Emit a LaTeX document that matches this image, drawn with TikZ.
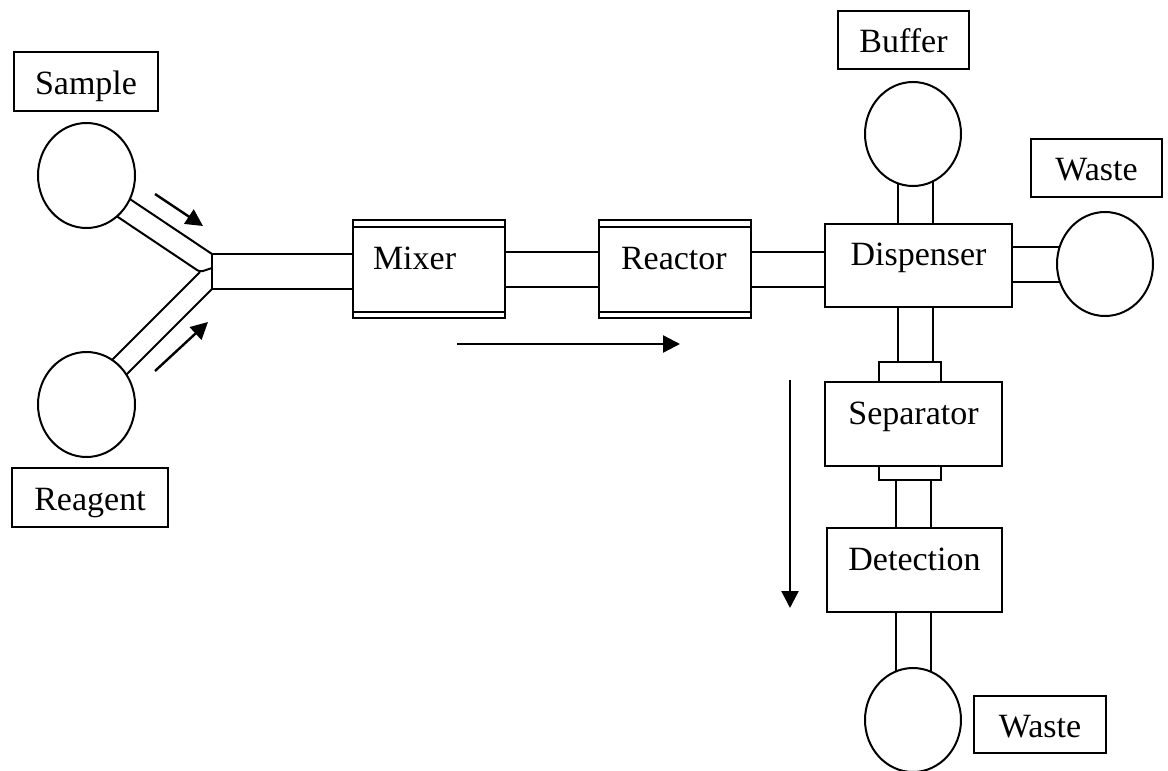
\documentclass[tikz,border=0pt]{standalone}
\usepackage{fontspec}
\setmainfont{Liberation Serif}
\usetikzlibrary{shapes.geometric,arrows.meta,backgrounds}
\begin{document}
\begin{tikzpicture}[x=1pt,y=-1pt,
  every node/.style={font=\fontsize{34}{40}\selectfont},
  lbl/.style={draw, line width=2pt, fill=white, inner sep=0pt, text height=25pt, text depth=0pt, minimum height=59pt},
  unit/.style={draw, line width=2pt, fill=white, inner sep=0pt, text height=20pt, text depth=20pt},
  tank/.style={draw, ellipse, line width=2pt, fill=white, minimum width=97pt, minimum height=105pt, inner sep=0pt},
  port/.style={draw, line width=2pt, fill=white, minimum width=62pt, inner sep=0pt},
  chan/.style={line width=2pt, double=white, double distance=33pt},
  wall/.style={line width=2pt},
  flow/.style={line width=2.4pt, -{Triangle[length=17pt,width=17pt]}}
]
\useasboundingbox (0,0) rectangle (1168,771);

% inlet side
\node[lbl, minimum width=144pt] (samplel) at (86,81.5) {Sample};
\node[tank] (samplet) at (86.5,175.5) {};
\node[tank] (reagentt) at (86.5,404.5) {};
\node[lbl, minimum width=156pt] (reagentl) at (90,497.5) {Reagent};

% processing units
\node[unit, minimum width=152pt, minimum height=98pt, text width=112pt, align=left, inner xsep=20pt] (mixer) at (429,269) {Mixer};
\node[unit, minimum width=152pt, minimum height=98pt, text width=108pt, align=left, inner xsep=22pt] (reactor) at (675,269) {Reactor};
\node[unit, minimum width=187pt, minimum height=83pt] (disp) at (918.5,265.5) {Dispenser};
\node[tank, minimum width=96pt, minimum height=104pt] (bufft) at (913,134) {};
\node[lbl, minimum width=131pt, minimum height=58pt] (buffl) at (903.5,40) {Buffer};
\node[tank, minimum width=96pt, minimum height=104pt] (wastet1) at (1105,264) {};
\node[lbl, minimum width=131pt, minimum height=58pt] (wastel1) at (1096.5,168) {Waste};
\node[unit, minimum width=177pt, minimum height=84pt] (sep) at (913.5,424) {Separator};
\node[port, minimum height=20pt] (septop) at (910,372) {};
\node[port, minimum height=14pt] (sepbot) at (910,473) {};
\node[unit, minimum width=175pt, minimum height=84pt] (det) at (914.5,570) {Detection};
\node[tank, minimum width=96pt, minimum height=104pt] (wastet2) at (913,720) {};
\node[lbl, minimum width=132pt, minimum height=57pt] (wastel2) at (1040,724.5) {Waste};

% mixer / reactor double rims
\foreach \u in {mixer,reactor}{
  \draw[wall] ([yshift=-8pt]\u.north west) -- ([yshift=-8pt]\u.north east);
  \draw[wall] ([yshift=7pt]\u.south west) -- ([yshift=7pt]\u.south east);
}

% junction points
\coordinate (j) at (212,271.5);
\coordinate (jt) at (212,254);
\coordinate (jb) at (212,289);
\coordinate (jc) at (212,268);
\coordinate (jm) at (200,272);
\coordinate (dispv) at (915.5,265.5);

\begin{scope}[on background layer]
  \draw[wall] ([yshift=5.5pt]samplet.center) -- (jt);
  \draw[wall, rounded corners=3pt] ([yshift=-20.5pt]samplet.center) -- (jm) -- (jc);
  \draw[wall] ([yshift=19pt]reagentt.center) -- (jm);
  \draw[wall] ([yshift=-10pt]reagentt.center) -- (jb);
  \draw[chan] (j) -- (j -| mixer.center);
  \draw[chan] (mixer.center) -- (reactor.center);
  \draw[chan] (reactor.center) -- (reactor.center -| disp.center);
  \draw[chan] (dispv |- bufft.center) -- (dispv);
  \draw[chan] (wastet1.center) -- (wastet1.center -| disp.center);
  \draw[chan] (dispv) -- (dispv |- septop.center);
  \draw[chan] (sep.center) -- (sep.center |- wastet2.center);
\end{scope}
\draw[wall] (jt) -- (jb);

% flow arrows
\coordinate (a1s) at (155,194);
\coordinate (a1e) at (203,226);
\coordinate (a2s) at (155,371);
\coordinate (a2e) at (208,322);
\coordinate (a3s) at (457,344);
\coordinate (a3e) at (680,344);
\coordinate (a4s) at (790,380);
\coordinate (a4e) at (790,608);
\draw[flow] (a1s) -- (a1e);
\draw[flow] (a2s) -- (a2e);
\draw[flow] (a3s) -- (a3e);
\draw[flow] (a4s) -- (a4e);
\end{tikzpicture}
\end{document}
